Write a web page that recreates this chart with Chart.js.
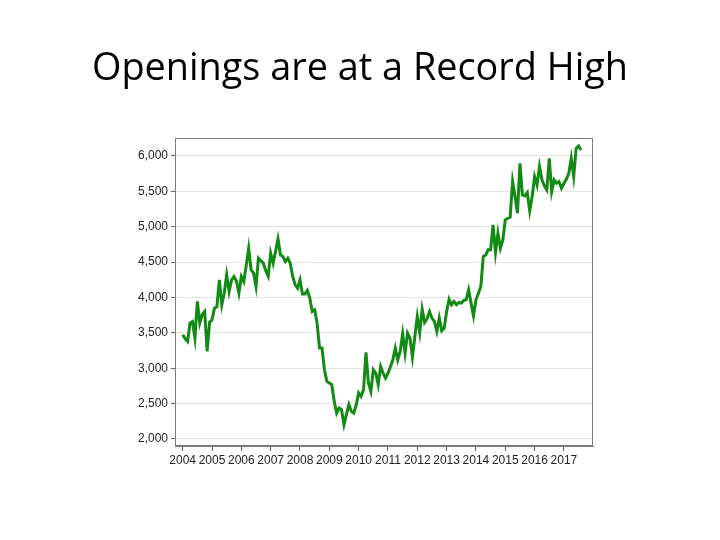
<!DOCTYPE html>
<html lang="en">
<head>
    <meta charset="UTF-8">
    <title>Openings are at a Record High</title>
</head>
<script src="https://cdn.jsdelivr.net/npm/chart.js"></script>
<style>
html, body {
    margin: 0;
    padding: 0;
    background: #ffffff;
}
#LineChart {
    display: block;
}
</style>
<body>
    <canvas id="LineChart" width="720" height="540"></canvas>
    <script>
        // job openings, thousands, monthly Jan 2004 - Aug 2017
        const startYear = 2004;
        const openings = [
            3473, 3420, 3379, 3638, 3661, 3426, 3944, 3638, 3760, 3802, 3238, 3647,
            3685, 3849, 3870, 4249, 3896, 4060, 4320, 4085, 4249, 4296, 4230, 4061,
            4296, 4226, 4450, 4696, 4390, 4343, 4155, 4555, 4520, 4485, 4380, 4300,
            4626, 4485, 4650, 4828, 4602, 4579, 4508, 4555, 4485, 4300, 4179, 4132,
            4249, 4050, 4050, 4100, 3991, 3802, 3826, 3638, 3285, 3285, 2979, 2814,
            2790, 2767, 2532, 2367, 2438, 2414, 2202, 2344, 2485, 2391, 2367, 2480,
            2650, 2602, 2696, 3224, 2790, 2673, 2979, 2932, 2767, 3026, 2932, 2861,
            2930, 3020, 3120, 3285, 3120, 3238, 3487, 3214, 3496, 3426, 3158, 3449,
            3732, 3506, 3835, 3647, 3700, 3802, 3708, 3661, 3520, 3708, 3530, 3567,
            3800, 3976, 3896, 3944, 3896, 3929, 3920, 3958, 3967, 4108, 3920, 3741,
            3967, 4061, 4155, 4579, 4602, 4673, 4673, 5026, 4635, 4908, 4697, 4814,
            5097, 5120, 5135, 5638, 5426, 5191, 5897, 5450, 5435, 5482, 5224, 5426,
            5708, 5591, 5850, 5662, 5577, 5520, 5967, 5497, 5662, 5614, 5638, 5544,
            5614, 5670, 5755, 5967, 5708, 6108, 6141, 6084
        ];
        const yearTicks = [2004, 2005, 2006, 2007, 2008, 2009, 2010, 2011, 2012, 2013, 2014, 2015, 2016, 2017];
        const valueTicks = [2000, 2500, 3000, 3500, 4000, 4500, 5000, 5500, 6000];
        const titleText = 'Openings are at a Record High';

        const points = openings.map((v, i) => ({x: i, y: v}));

        const frame = {
            id: 'frame',
            afterDraw(chart) {
                const {ctx, chartArea: a} = chart;
                ctx.save();
                ctx.strokeStyle = '#7a7a7a';
                ctx.lineWidth = 1;
                ctx.strokeRect(a.left + 0.5, a.top + 0.5, a.right - a.left - 1, a.bottom - a.top - 1);
                // slide title
                let size = 40;
                ctx.font = size + 'px "Open Sans"';
                const w = ctx.measureText(titleText).width;
                size = size * 536 / w;
                ctx.font = size + 'px "Open Sans"';
                ctx.fillStyle = '#000000';
                ctx.textAlign = 'center';
                ctx.textBaseline = 'alphabetic';
                ctx.fillText(titleText, 360, 80);
                ctx.restore();
            }
        };

        new Chart(document.getElementById('LineChart').getContext('2d'), {
            type: 'line',
            data: {
                datasets: [{
                    data: points,
                    borderColor: '#138a13',
                    borderWidth: 3,
                    pointRadius: 0,
                    tension: 0,
                    fill: false
                }]
            },
            options: {
                responsive: false,
                animation: false,
                layout: {
                    padding: {left: 120, right: 127, top: 138, bottom: 64}
                },
                plugins: {
                    legend: {display: false},
                    tooltip: {enabled: false}
                },
                scales: {
                    x: {
                        type: 'linear',
                        min: -3.15,
                        max: 167.9,
                        afterBuildTicks: s => { s.ticks = yearTicks.map(y => ({value: (y - startYear) * 12})); },
                        afterFit: s => { s.height = 30; },
                        ticks: {
                            callback: v => String(startYear + v / 12),
                            color: '#222222',
                            font: {family: 'Liberation Sans', size: 12},
                            maxRotation: 0,
                            autoSkip: false,
                            padding: 2
                        },
                        grid: {
                            drawOnChartArea: false,
                            tickLength: 5,
                            tickColor: '#666666'
                        },
                        border: {color: '#7a7a7a'}
                    },
                    y: {
                        min: 1901,
                        max: 6254,
                        afterBuildTicks: s => { s.ticks = valueTicks.map(v => ({value: v})); },
                        afterFit: s => { s.width = 55; },
                        ticks: {
                            callback: v => v.toLocaleString('en-US'),
                            color: '#222222',
                            font: {family: 'Liberation Sans', size: 12},
                            padding: 3
                        },
                        grid: {
                            color: '#e4e4e4',
                            tickLength: 4,
                            tickColor: '#666666'
                        },
                        border: {color: '#7a7a7a'}
                    }
                }
            },
            plugins: [frame]
        });
    </script>
</body>
</html>
